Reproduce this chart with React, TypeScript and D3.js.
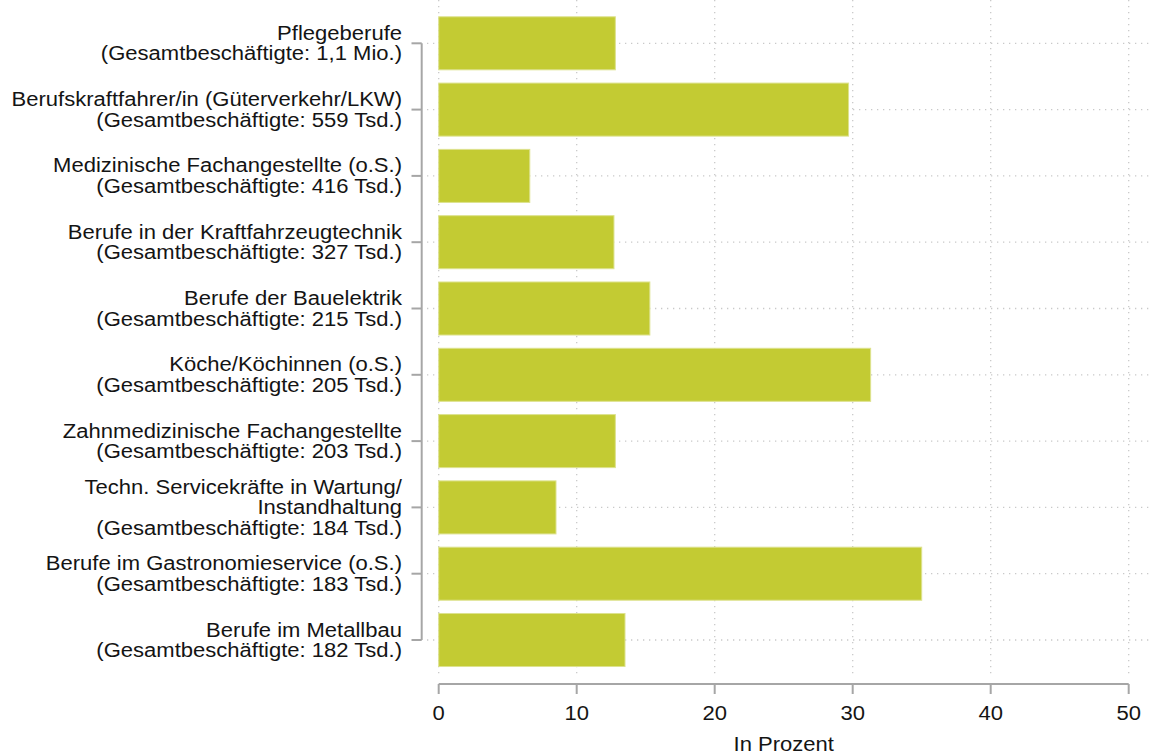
import { useMemo } from 'react';
import * as d3 from 'd3';

// Berufe (Zeilen der Beschriftung) und Gesamtbeschäftigte
const berufe: string[][] = [
  ['Pflegeberufe'],
  ['Berufskraftfahrer/in (Güterverkehr/LKW)'],
  ['Medizinische Fachangestellte (o.S.)'],
  ['Berufe in der Kraftfahrzeugtechnik'],
  ['Berufe der Bauelektrik'],
  ['Köche/Köchinnen (o.S.)'],
  ['Zahnmedizinische Fachangestellte'],
  ['Techn. Servicekräfte in Wartung/', 'Instandhaltung'],
  ['Berufe im Gastronomieservice (o.S.)'],
  ['Berufe im Metallbau'],
];

const beschaeftigte = [
  '1,1 Mio.', '559 Tsd.', '416 Tsd.', '327 Tsd.', '215 Tsd.',
  '205 Tsd.', '203 Tsd.', '184 Tsd.', '183 Tsd.', '182 Tsd.',
];

const anteile = [12.8, 29.7, 6.6, 12.7, 15.3, 31.3, 12.8, 8.5, 35.0, 13.5];

const xTicks = [0, 10, 20, 30, 40, 50];

const W = 1149;
const H = 754;
const FONT = "'Liberation Sans', Arial, sans-serif";
const FS = 19.5;
const SX = 1.13; // Schrift ist im Original etwas breiter gezogen

export default function App() {
  const ids = berufe.map((_, i) => String(i));

  const x = useMemo(() => d3.scaleLinear().domain([0, 50]).range([438.7, 1128.7]), []);
  const y = useMemo(
    () => d3.scaleBand<string>().domain(ids).range([10.15, 673.15]).paddingInner(0.2).paddingOuter(0.1),
    []
  );

  const bw = y.bandwidth();
  const mid = (i: number) => (y(String(i)) ?? 0) + bw / 2;
  const axisY = 684;
  const gridCol = '#c9c9c9';
  const axisCol = '#a6a6a6';
  const textCol = '#141414';
  const lineH = 20.5;

  const label = (key: string, tx: number, ty: number, s: string, anchor: string) => (
    <text key={key} transform={`translate(${tx},${ty}) scale(${SX},1)`} dy="0.35em"
      textAnchor={anchor} fontSize={FS} fill={textCol}>{s}</text>
  );

  return (
    <svg
      width={W}
      height={H}
      style={{ position: 'absolute', left: 0, top: 0, background: '#fff' }}
      fontFamily={FONT}
    >
      {/* vertikale Gitterlinien */}
      {xTicks.map(t => (
        <line key={'gv' + t} x1={x(t)} x2={x(t)} y1={0} y2={677}
          stroke={gridCol} strokeWidth={1.3} strokeDasharray="1.3 4.7" />
      ))}
      {/* horizontale Gitterlinien */}
      {ids.map((_, i) => (
        <line key={'gh' + i} x1={427} x2={W} y1={mid(i)} y2={mid(i)}
          stroke={gridCol} strokeWidth={1.3} strokeDasharray="1.3 4.7" />
      ))}

      {/* Balken */}
      {anteile.map((v, i) => (
        <rect key={'b' + i}
          x={x(0)} y={y(String(i))} width={x(v) - x(0)} height={bw}
          fill="#c3cb33" stroke="#dde28e" strokeWidth={1} />
      ))}

      {/* y-Achse (Klammer) */}
      <line x1={421.7} x2={421.7} y1={mid(0)} y2={mid(ids.length - 1)} stroke={axisCol} strokeWidth={2} />
      {ids.map((_, i) => (
        <line key={'yt' + i} x1={411.5} x2={421.7} y1={mid(i)} y2={mid(i)} stroke={axisCol} strokeWidth={2} />
      ))}

      {/* Beschriftungen */}
      {berufe.map((lines, i) => {
        const all = [...lines, `(Gesamtbeschäftigte: ${beschaeftigte[i]})`];
        const start = mid(i) - ((all.length - 1) * lineH) / 2;
        return (
          <g key={'l' + i}>
            {all.map((s, k) => label(`${i}-${k}`, 402, start + k * lineH, s, 'end'))}
          </g>
        );
      })}

      {/* x-Achse */}
      <line x1={x(0)} x2={x(50)} y1={axisY} y2={axisY} stroke={axisCol} strokeWidth={2} />
      {xTicks.map(t => (
        <g key={'xt' + t}>
          <line x1={x(t)} x2={x(t)} y1={axisY} y2={axisY + 10} stroke={axisCol} strokeWidth={2} />
          {label('xl' + t, x(t), 713, String(t), 'middle')}
        </g>
      ))}
      {label('xtitle', (x(0) + x(50)) / 2, 744, 'In Prozent', 'middle')}
    </svg>
  );
}
